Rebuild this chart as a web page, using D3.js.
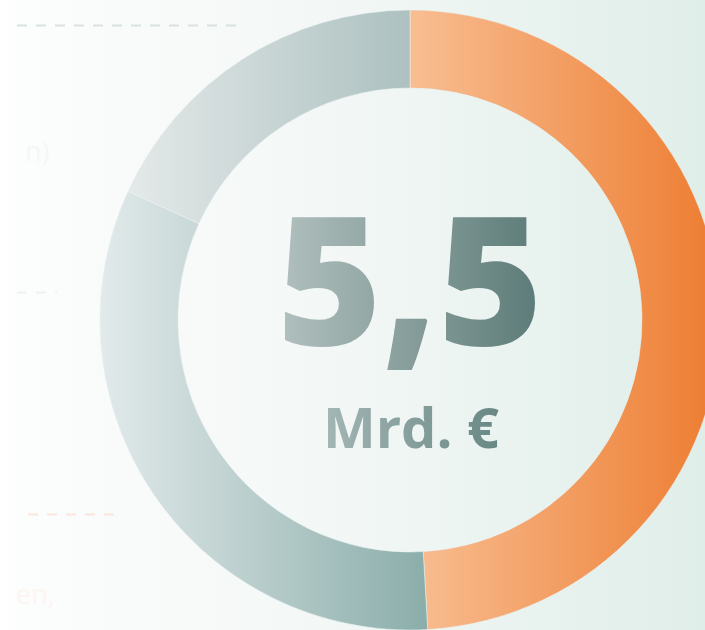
<!DOCTYPE html>
<html>
<head>
<meta charset="utf-8">
<script src="https://cdn.jsdelivr.net/npm/d3@7"></script>
<style>
  html, body { margin: 0; padding: 0; background: #fff; }
  svg { display: block; }
</style>
</head>
<body>
<svg id="chart" width="705" height="630"></svg>
<script>
// segments of the ring, clockwise from the top
const categories = ['A', 'B', 'C'];
const values = [2.7, 1.8, 1.0];
const unitLabel = 'Mrd. €';
// faded legend fragments on the left edge
const legendTexts = ['n)', 'en,'];

const width = 705, height = 630;
const cx = 410, cy = 320;
const outerR = 310, innerR = 232;

const svg = d3.select('#chart');
const defs = svg.append('defs');

// horizontal gradient in user space (x given in the coordinate system of the element using it)
function hGrad(id, x1, x2, stops) {
    const g = defs.append('linearGradient')
        .attr('id', id)
        .attr('gradientUnits', 'userSpaceOnUse')
        .attr('x1', x1).attr('x2', x2).attr('y1', 0).attr('y2', 0);
    stops.forEach(s => g.append('stop').attr('offset', s[0]).attr('stop-color', s[1]));
}

hGrad('bg', 0, width, [[0, '#ffffff'], [0.03, '#fcfdfd'], [0.5, '#f2f7f5'], [1, '#e0eee9']]);
// ring gradients live inside the translated group -> relative to cx
hGrad('segA', 410 - cx, 720 - cx, [[0, '#f8be92'], [1, '#ed7c30']]);
hGrad('segB', 100 - cx, 430 - cx, [[0, '#e2eaea'], [1, '#8aadaa']]);
hGrad('segC', 120 - cx, 410 - cx, [[0, '#e6eaea'], [1, '#acc1c0']]);
hGrad('big', 283, 540, [[0, '#b0bfbd'], [1, '#5c7b78']]);
hGrad('unit', 326, 497, [[0, '#a3b6b4'], [1, '#698885']]);

svg.append('rect')
    .attr('width', width).attr('height', height)
    .attr('fill', 'url(#bg)');

// faded legend leftovers
const legend = svg.append('g').attr('opacity', 0.9);
legend.append('line')
    .attr('x1', 17).attr('x2', 245).attr('y1', 25.5).attr('y2', 25.5)
    .attr('stroke', '#d6e0df').attr('stroke-width', 2).attr('stroke-dasharray', '10 9');
legend.append('line')
    .attr('x1', 17).attr('x2', 57).attr('y1', 292.5).attr('y2', 292.5)
    .attr('stroke', '#eef2f1').attr('stroke-width', 2).attr('stroke-dasharray', '10 9');
legend.append('line')
    .attr('x1', 28).attr('x2', 114).attr('y1', 514.5).attr('y2', 514.5)
    .attr('stroke', '#fde4d8').attr('stroke-width', 2).attr('stroke-dasharray', '10 9');
legend.selectAll('text.leg')
    .data(legendTexts)
    .enter().append('text')
    .attr('class', 'leg')
    .attr('x', (d, i) => i === 0 ? 25 : 16)
    .attr('y', (d, i) => i === 0 ? 161 : 604)
    .attr('font-family', 'Open Sans, sans-serif')
    .attr('font-size', 27)
    .attr('fill', (d, i) => i === 0 ? '#f4f7f7' : '#fdf5f0')
    .text(d => d);

const pie = d3.pie().sort(null).value(d => d);
const arc = d3.arc().innerRadius(innerR).outerRadius(outerR);
const fills = ['url(#segA)', 'url(#segB)', 'url(#segC)'];

const ring = svg.append('g').attr('transform', `translate(${cx},${cy})`);
ring.selectAll('path')
    .data(pie(values))
    .enter().append('path')
    .attr('d', arc)
    .attr('fill', (d, i) => fills[i])
    .attr('stroke', '#eaf1f0')
    .attr('stroke-width', 0.8)
    .attr('stroke-opacity', 0.7);

const total = d3.sum(values);
const fmt = v => d3.format('.1f')(v).replace('.', ',');

svg.append('text')
    .attr('x', cx).attr('y', 345)
    .attr('text-anchor', 'middle')
    .attr('font-family', 'Open Sans, sans-serif')
    .attr('font-weight', 800)
    .attr('font-size', 180)
    .attr('fill', 'url(#big)')
    .text(fmt(total));

svg.append('text')
    .attr('x', cx + 1).attr('y', 448)
    .attr('text-anchor', 'middle')
    .attr('font-family', 'Open Sans, sans-serif')
    .attr('font-weight', 700)
    .attr('font-size', 56)
    .attr('fill', 'url(#unit)')
    .text(unitLabel);
</script>
</body>
</html>
